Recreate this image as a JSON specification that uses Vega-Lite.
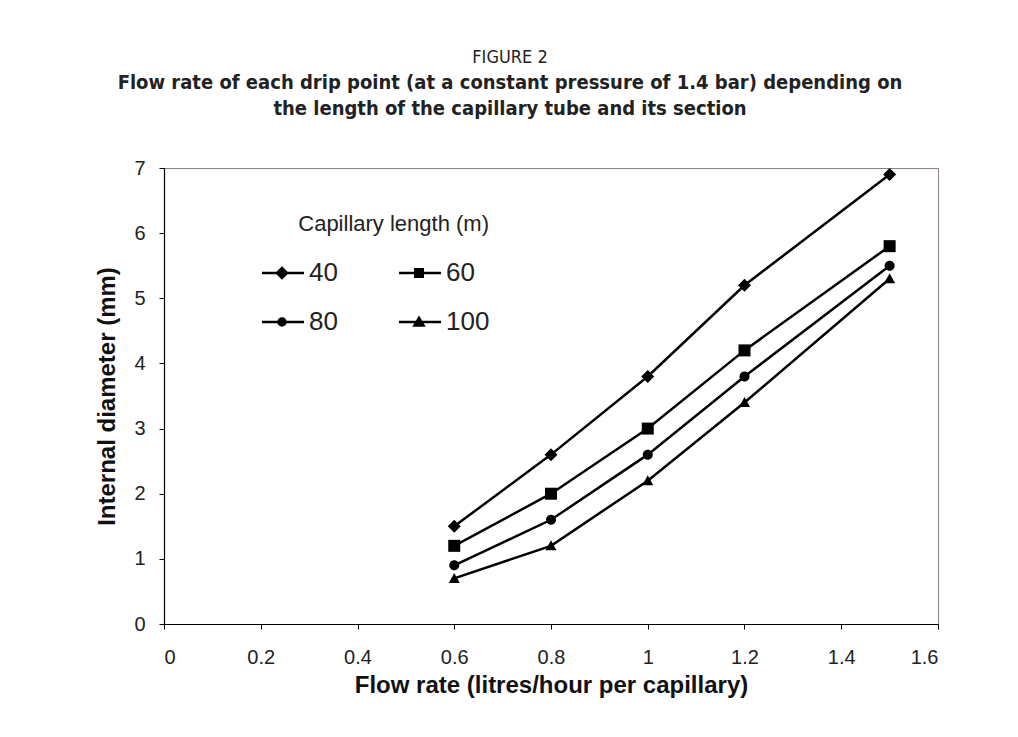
{
  "$schema": "https://vega.github.io/schema/vega-lite/v6.json",
  "width": 774,
  "height": 456,
  "autosize": {"type": "none"},
  "padding": {"left": 164, "top": 168, "right": 80, "bottom": 113},
  "background": "white",
  "title": {
    "text": "FIGURE 2",
    "subtitle": ["Flow rate of each drip point (at a constant pressure of 1.4 bar) depending on", "the length of the capillary tube and its section"],
    "frame": "group",
    "anchor": "middle",
    "dx": -41,
    "offset": 39,
    "font": "DejaVu Sans Condensed, sans-serif",
    "fontSize": 18,
    "fontWeight": "normal",
    "color": "#222222",
    "subtitleFont": "DejaVu Sans Condensed, sans-serif",
    "subtitleFontSize": 20,
    "subtitleFontWeight": "bold",
    "subtitleColor": "#222222",
    "subtitleLineHeight": 26,
    "subtitlePadding": 6
  },
  "data": {
    "values": [
      {"flow": 0.6, "diameter": 1.5, "length": "40"},
      {"flow": 0.8, "diameter": 2.6, "length": "40"},
      {"flow": 1.0, "diameter": 3.8, "length": "40"},
      {"flow": 1.2, "diameter": 5.2, "length": "40"},
      {"flow": 1.5, "diameter": 6.9, "length": "40"},
      {"flow": 0.6, "diameter": 1.2, "length": "60"},
      {"flow": 0.8, "diameter": 2.0, "length": "60"},
      {"flow": 1.0, "diameter": 3.0, "length": "60"},
      {"flow": 1.2, "diameter": 4.2, "length": "60"},
      {"flow": 1.5, "diameter": 5.8, "length": "60"},
      {"flow": 0.6, "diameter": 0.9, "length": "80"},
      {"flow": 0.8, "diameter": 1.6, "length": "80"},
      {"flow": 1.0, "diameter": 2.6, "length": "80"},
      {"flow": 1.2, "diameter": 3.8, "length": "80"},
      {"flow": 1.5, "diameter": 5.5, "length": "80"},
      {"flow": 0.6, "diameter": 0.7, "length": "100"},
      {"flow": 0.8, "diameter": 1.2, "length": "100"},
      {"flow": 1.0, "diameter": 2.2, "length": "100"},
      {"flow": 1.2, "diameter": 3.4, "length": "100"},
      {"flow": 1.5, "diameter": 5.3, "length": "100"}
    ]
  },
  "encoding": {
    "x": {
      "field": "flow",
      "type": "quantitative",
      "scale": {"domain": [0, 1.6], "nice": false, "zero": true},
      "axis": {
        "title": "Flow rate (litres/hour per capillary)",
        "values": [0, 0.2, 0.4, 0.6, 0.8, 1.0, 1.2, 1.4, 1.6],
        "format": "~g",
        "labelPadding": 18,
        "titlePadding": 6
      }
    },
    "y": {
      "field": "diameter",
      "type": "quantitative",
      "scale": {"domain": [0, 7], "nice": false},
      "axis": {
        "title": "Internal diameter (mm)",
        "values": [0, 1, 2, 3, 4, 5, 6, 7],
        "labelPadding": 14,
        "titlePadding": 14
      }
    }
  },
  "layer": [
    {
      "mark": {"type": "line", "color": "black", "strokeWidth": 2.5},
      "encoding": {"detail": {"field": "length", "type": "nominal"}}
    },
    {
      "mark": {"type": "point", "filled": true, "color": "black", "opacity": 1, "size": 100},
      "encoding": {
        "shape": {
          "field": "length",
          "type": "nominal",
          "scale": {
            "domain": ["40", "60", "80", "100"],
            "range": [
              "M0,-1.3L1.3,0L0,1.3L-1.3,0Z",
              "M-1.2,-1.2H1.2V1.2H-1.2Z",
              "M-1,0A1,1,0,1,0,1,0A1,1,0,1,0,-1,0Z",
              "M0,-1.1L1.1,0.9H-1.1Z"
            ]
          },
          "legend": null
        }
      }
    },
    {
      "transform": [{"filter": "datum.flow < 0"}],
      "mark": {"type": "point", "filled": false, "color": "black", "strokeWidth": 2.5, "opacity": 1, "size": 100},
      "encoding": {
        "shape": {
          "field": "length",
          "type": "nominal",
          "scale": {
            "domain": ["40", "60", "80", "100"],
            "range": [
              "M-1,0H7.4M3,-1L4,0L3,1L2,0ZM3,-0.55L3.55,0L3,0.55L2.45,0ZM3,-0.15L3.15,0L3,0.15L2.85,0Z",
              "M-1,0H7.4M2.25,-0.75H3.75V0.75H2.25ZM2.7,-0.3H3.3V0.3H2.7Z",
              "M-1,0H7.4M2.3,0A0.7,0.7,0,1,0,3.7,0A0.7,0.7,0,1,0,2.3,0ZM2.75,0A0.25,0.25,0,1,0,3.25,0A0.25,0.25,0,1,0,2.75,0Z",
              "M-1,0H7.4M3,-0.8L3.9,0.7H2.1ZM3,-0.2L3.35,0.4H2.65Z"
            ]
          },
          "legend": {
            "title": "Capillary length (m)",
            "orient": "none",
            "direction": "horizontal",
            "legendX": 80,
            "legendY": 36,
            "columns": 2,
            "columnPadding": 53,
            "rowPadding": 23,
            "symbolSize": 100,
            "symbolStrokeColor": "black",
            "symbolStrokeWidth": 2.5,
            "symbolOpacity": 1,
            "labelOffset": 29,
            "labelLimit": 200,
            "labelFont": "Liberation Sans, Arial, sans-serif",
            "labelFontSize": 26,
            "labelColor": "#222222",
            "titleFont": "Liberation Sans, Arial, sans-serif",
            "titleFontSize": 22,
            "titleFontWeight": "normal",
            "titleColor": "#222222",
            "titleLimit": 400,
            "titlePadding": 24,
            "titleAnchor": "end",
            "fillColor": "white",
            "padding": 10
          }
        }
      }
    }
  ],
  "resolve": {"scale": {"shape": "independent"}, "legend": {"shape": "independent"}},
  "config": {
    "view": {"stroke": "#8c7f7f", "strokeWidth": 1},
    "axis": {
      "grid": false,
      "domainColor": "black",
      "domainWidth": 1.2,
      "tickColor": "black",
      "tickSize": 5,
      "labelFont": "Liberation Sans, Arial, sans-serif",
      "labelFontSize": 20,
      "labelColor": "#222222",
      "titleFont": "Liberation Sans, Arial, sans-serif",
      "titleFontSize": 24,
      "titleFontWeight": "bold",
      "titleColor": "#111111"
    }
  }
}
